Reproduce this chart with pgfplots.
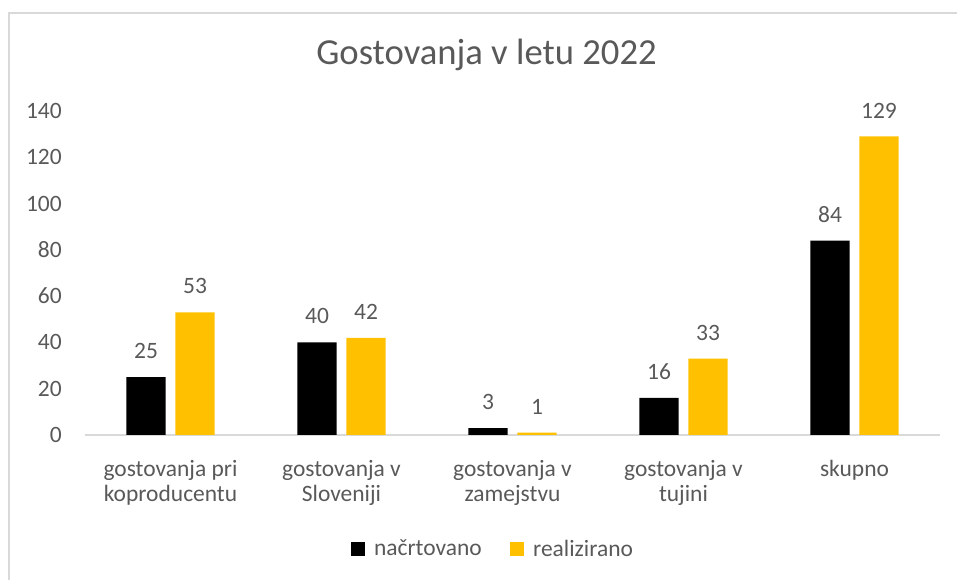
\documentclass[border=0pt]{standalone}
\usepackage{fontspec}
\setmainfont{Carlito}
\usepackage{pgfplots}
\pgfplotsset{compat=1.18}
\definecolor{txtgray}{HTML}{595959}
\definecolor{linegray}{HTML}{D9D9D9}
\definecolor{gold}{HTML}{FFC000}
% 1px of the reference = 0.75pt
\newcommand{\lblfont}{\fontsize{17.6}{19.1}\selectfont}
\begin{document}
\begin{tikzpicture}
\useasboundingbox (0,0) rectangle (717.75pt,435pt);
% chart area border (only top and left visible)
\draw[linegray, line width=1.5pt] (6.4pt,0) -- (6.4pt,425.6pt) -- (717.75pt,425.6pt);
\node[anchor=base, text=txtgray, font=\fontsize{27.5}{33}\selectfont]
  at (364.9pt,386.25pt) {Gostovanja v letu 2022};
\begin{axis}[
  at={(63.75pt,108.75pt)}, anchor=south west,
  scale only axis,
  width=641.25pt, height=243pt,
  ybar, clip=false,
  xmin=-0.5, xmax=4.5,
  ymin=0, ymax=140,
  ytick={0,20,...,140},
  xtick={0,1,2,3,4},
  xticklabels={{\strut gostovanja pri\\koproducentu},{\strut gostovanja v\\Sloveniji},{\strut gostovanja v\\zamejstvu},{\strut gostovanja v\\tujini},{\strut skupno}},
  axis x line=bottom, axis y line=left,
  x axis line style={draw=linegray, line width=1pt, -},
  y axis line style={draw=none},
  major tick length=0pt,
  /pgf/number format/assume math mode=true,
  tick label style={font=\lblfont, text=txtgray},
  yticklabel style={anchor=east, inner sep=0pt, xshift=-17.25pt},
  xticklabel style={anchor=north, align=center, inner sep=0pt, yshift=-17.3pt},
  bar width=29.6pt,
  nodes near coords,
  every node near coord/.append style={font=\lblfont, text=txtgray, inner sep=0pt, anchor=south, yshift=13.5pt},
  legend columns=2,
  legend style={draw=none, fill=none, at={(0.4778,-0.352)}, anchor=center,
    font=\lblfont, text=txtgray,
    /tikz/every odd column/.append style={column sep=4.5pt},
    /tikz/every even column/.append style={column sep=19.5pt}},
  legend image code/.code={\fill[#1] (0pt,-5.25pt) rectangle (10.5pt,5.25pt);},
]
\addplot[fill=black, draw=none, bar shift=-18.375pt]
  coordinates {(0,25) (1,40) (2,3) (3,16) (4,84)};
\addplot[fill=gold, draw=none, bar shift=18.375pt]
  coordinates {(0,53) (1,42) (2,1) (3,33) (4,129)};
\legend{načrtovano, realizirano}
\end{axis}
\end{tikzpicture}
\end{document}
